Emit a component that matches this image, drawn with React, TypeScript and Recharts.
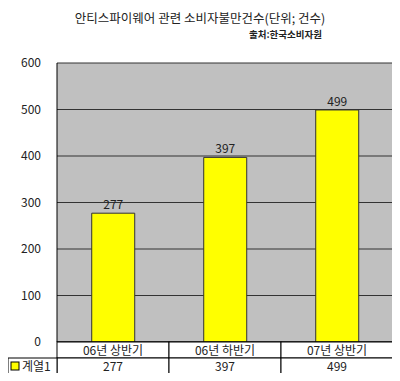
import { BarChart, Bar, XAxis, YAxis, CartesianGrid, LabelList } from 'recharts'

const categories = ['06년 상반기', '06년 하반기', '07년 상반기']
const values = [277, 397, 499]
const yTicks = [0, 100, 200, 300, 400, 500, 600]
const seriesName = '계열1'

const data = categories.map((name, i) => ({ name, value: values[i] }))

const FONT = '"Noto Sans CJK KR", "DejaVu Sans", sans-serif'
const CELL_W = (393 - 57) / 3
const ROW_H = 16

function TableTick(props: any) {
  const { x, y, index, payload } = props
  const left = x - CELL_W / 2
  const top = y
  return (
    <g>
      <rect x={left} y={top} width={CELL_W} height={ROW_H} fill="#fff" stroke="#000" strokeWidth={1} />
      <rect x={left} y={top + ROW_H} width={CELL_W} height={ROW_H} fill="#fff" stroke="#000" strokeWidth={1} />
      <text x={x} y={top + 12.5} textAnchor="middle" fontSize={12} fill="#222" fontFamily={FONT}>
        {payload.value}
      </text>
      <text x={x} y={top + ROW_H + 12.5} textAnchor="middle" fontSize={12} fill="#222" fontFamily={FONT}>
        {values[index]}
      </text>
      {index === 0 && (
        <g>
          <rect x={8} y={top + ROW_H} width={left - 8} height={ROW_H} fill="#fff" stroke="#000" strokeWidth={1} />
          <rect x={11} y={top + ROW_H + 4} width={8} height={8} fill="#ffff00" stroke="#000" strokeWidth={1} />
          <text x={22} y={top + ROW_H + 12.5} fontSize={12} fill="#222" fontFamily={FONT}>
            {seriesName}
          </text>
        </g>
      )}
    </g>
  )
}

export default function App() {
  return (
    <div style={{ position: 'relative', width: 400, height: 381, margin: -8, background: '#fff' }}>
      <div
        style={{
          position: 'absolute',
          top: 8,
          left: 0,
          width: 400,
          textAlign: 'center',
          fontSize: 12.5,
          fontFamily: FONT,
          color: '#222',
        }}
      >
        안티스파이웨어 관련 소비자불만건수(단위; 건수)
      </div>
      <div
        style={{
          position: 'absolute',
          top: 27,
          left: 249,
          fontSize: 9.5,
          fontWeight: 'bold',
          fontFamily: FONT,
          color: '#222',
        }}
      >
        출처:한국소비자원
      </div>
      <BarChart
        width={400}
        height={381}
        data={data}
        margin={{ top: 63, right: 6, bottom: 7, left: 0 }}
        barCategoryGap="31%"
      >
        <CartesianGrid vertical={false} fill="#c0c0c0" fillOpacity={1} stroke="#333" strokeWidth={1} />
        <XAxis
          dataKey="name"
          height={32}
          axisLine={{ stroke: '#000' }}
          tickLine={false}
          tickSize={0}
          tickMargin={0}
          tick={<TableTick />}
          interval={0}
        />
        <YAxis
          domain={[0, 600]}
          ticks={yTicks}
          width={57}
          axisLine={{ stroke: '#000' }}
          tickLine={false}
          tickMargin={10}
          tick={{ fontSize: 12, fill: '#222', fontFamily: FONT }}
        />
        <YAxis yAxisId="right" orientation="right" width={1} tick={false} axisLine={{ stroke: '#555' }} tickLine={false} />
        <Bar dataKey="value" fill="#ffff00" stroke="#333" strokeWidth={1} isAnimationActive={false}>
          <LabelList dataKey="value" position="top" offset={4} fontSize={12} fill="#222" fontFamily={FONT} />
        </Bar>
      </BarChart>
    </div>
  )
}
